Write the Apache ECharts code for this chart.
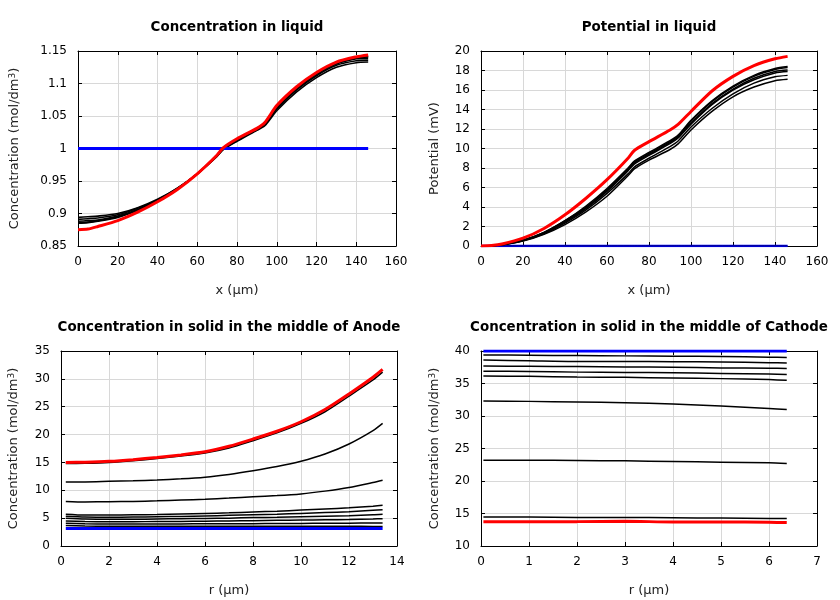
<!DOCTYPE html>
<html>
<head>
<meta charset="utf-8">
<script src="https://cdn.jsdelivr.net/npm/echarts@6/dist/echarts.min.js"></script>
<style>html,body{margin:0;padding:0;background:#fff}#c{width:840px;height:600px}</style>
</head>
<body>
<div id="c"></div>
<script>
// ---------- Data ----------
const titles = ['Concentration in liquid', 'Potential in liquid',
  'Concentration in solid in the middle of Anode', 'Concentration in solid in the middle of Cathode'];

// Liquid (x in µm)
const xLiq = [0, 5, 10, 20, 30, 40, 50, 60, 70, 73, 80, 90, 94, 100, 110, 120, 130, 140, 146];
const concLiqBlue = [1, 1, 1, 1, 1, 1, 1, 1, 1, 1, 1, 1, 1, 1, 1, 1, 1, 1, 1];
const concLiqRed = [0.875, 0.876, 0.880, 0.889, 0.902, 0.918, 0.937, 0.961, 0.990, 1.001, 1.015, 1.031, 1.040, 1.066, 1.095, 1.117, 1.133, 1.141, 1.144];
const concLiqBlack1 = [0.894, 0.895, 0.896, 0.900, 0.909, 0.922, 0.939, 0.961, 0.988, 0.998, 1.011, 1.028, 1.035, 1.058, 1.087, 1.109, 1.125, 1.132, 1.133];
const concLiqBlack2 = [0.891, 0.892, 0.893, 0.898, 0.908, 0.921, 0.939, 0.961, 0.989, 0.999, 1.012, 1.029, 1.037, 1.061, 1.090, 1.112, 1.128, 1.135, 1.136];
const concLiqBlack3 = [0.888, 0.889, 0.890, 0.896, 0.906, 0.920, 0.938, 0.961, 0.989, 0.999, 1.013, 1.030, 1.038, 1.062, 1.091, 1.114, 1.130, 1.138, 1.139];
const concLiqBlack4 = [0.886, 0.887, 0.889, 0.895, 0.905, 0.920, 0.938, 0.961, 0.989, 1.000, 1.014, 1.031, 1.039, 1.063, 1.092, 1.115, 1.131, 1.139, 1.141];
const concLiqBlack5 = [0.885, 0.886, 0.888, 0.894, 0.905, 0.919, 0.938, 0.961, 0.990, 1.000, 1.014, 1.031, 1.039, 1.064, 1.093, 1.116, 1.132, 1.140, 1.142];

const potBlue = [0, 0, 0, 0, 0, 0, 0, 0, 0, 0, 0, 0, 0, 0, 0, 0, 0, 0, 0];
const potRed = [0, 0.05, 0.2, 0.8, 1.8, 3.2, 4.9, 6.8, 9.0, 9.8, 10.7, 11.9, 12.5, 13.8, 15.9, 17.4, 18.5, 19.2, 19.45];
const potBlack0 = [0, 0, 0, 0, 0, 0, 0, 0, 0, 0, 0, 0, 0, 0, 0, 0, 0, 0, 0];
const potBlack1 = [0, 0.03, 0.15, 0.6, 1.4, 2.6, 4.1, 5.9, 8.0, 8.7, 9.6, 10.8, 11.4, 12.9, 14.9, 16.4, 17.5, 18.2, 18.4];
const potBlack2 = [0, 0.03, 0.15, 0.6, 1.4, 2.6, 4.0, 5.8, 7.9, 8.6, 9.5, 10.7, 11.3, 12.8, 14.8, 16.3, 17.4, 18.1, 18.3];
const potBlack3 = [0, 0.03, 0.14, 0.58, 1.35, 2.5, 3.9, 5.7, 7.8, 8.5, 9.4, 10.6, 11.2, 12.6, 14.6, 16.1, 17.2, 17.9, 18.05];
const potBlack4 = [0, 0.03, 0.14, 0.56, 1.3, 2.45, 3.85, 5.6, 7.7, 8.4, 9.3, 10.5, 11.1, 12.5, 14.5, 16.0, 17.05, 17.75, 17.9];
const potBlack5 = [0, 0.03, 0.13, 0.54, 1.25, 2.35, 3.7, 5.4, 7.4, 8.1, 9.0, 10.2, 10.8, 12.2, 14.1, 15.6, 16.7, 17.35, 17.5];
const potBlack6 = [0, 0.03, 0.12, 0.5, 1.2, 2.2, 3.5, 5.1, 7.2, 7.9, 8.8, 9.9, 10.5, 11.9, 13.8, 15.3, 16.3, 16.95, 17.1];

// Anode solid (r in µm)
const rAn = [0.2, 1, 2, 3, 4, 5, 6, 7, 8, 9, 10, 11, 12, 13, 13.4];
const anBlue = [3.15, 3.15, 3.15, 3.15, 3.15, 3.15, 3.15, 3.15, 3.15, 3.15, 3.15, 3.15, 3.15, 3.15, 3.15];
const anRed = [15.0, 15.05, 15.2, 15.5, 15.9, 16.35, 16.9, 17.9, 19.2, 20.6, 22.3, 24.5, 27.3, 30.3, 31.7];
const anBlack1 = [14.8, 14.85, 15.0, 15.3, 15.7, 16.15, 16.7, 17.6, 18.9, 20.3, 22.0, 24.1, 26.9, 29.8, 31.2];
const anBlack2 = [11.5, 11.5, 11.6, 11.7, 11.85, 12.05, 12.35, 12.85, 13.5, 14.25, 15.2, 16.5, 18.3, 20.7, 22.0];
const anBlack3 = [8.0, 7.9, 7.95, 8.0, 8.1, 8.25, 8.4, 8.6, 8.85, 9.05, 9.35, 9.85, 10.5, 11.4, 11.8];
const anBlack4 = [5.7, 5.55, 5.55, 5.6, 5.65, 5.75, 5.85, 5.95, 6.1, 6.25, 6.45, 6.65, 6.85, 7.15, 7.3];
const anBlack5 = [5.35, 5.2, 5.15, 5.2, 5.25, 5.3, 5.4, 5.5, 5.6, 5.7, 5.85, 6.0, 6.15, 6.4, 6.5];
const anBlack6 = [5.0, 4.85, 4.8, 4.8, 4.85, 4.9, 4.95, 5.0, 5.1, 5.15, 5.25, 5.35, 5.45, 5.6, 5.7];
const anBlack7 = [4.5, 4.4, 4.35, 4.35, 4.4, 4.4, 4.45, 4.5, 4.55, 4.6, 4.65, 4.7, 4.75, 4.85, 4.9];
const anBlack8 = [4.1, 4.0, 3.95, 3.95, 3.95, 3.95, 4.0, 4.0, 4.0, 4.05, 4.05, 4.1, 4.1, 4.15, 4.15];
const anBlack9 = [3.7, 3.6, 3.55, 3.55, 3.55, 3.55, 3.55, 3.55, 3.55, 3.55, 3.55, 3.55, 3.55, 3.5, 3.5];

// Cathode solid (r in µm)
const rCa = [0.05, 1, 2, 3, 4, 5, 6, 6.37];
const caBlue = [40, 40, 40, 40, 40, 40, 40, 40];
const caRed = [13.75, 13.75, 13.75, 13.8, 13.7, 13.7, 13.65, 13.6];
const caBlack1 = [39.4, 39.35, 39.3, 39.25, 39.2, 39.15, 39.05, 39.0];
const caBlack2 = [38.6, 38.5, 38.4, 38.4, 38.35, 38.3, 38.2, 38.15];
const caBlack3 = [37.7, 37.65, 37.6, 37.55, 37.5, 37.4, 37.35, 37.3];
const caBlack4 = [36.9, 36.85, 36.75, 36.7, 36.65, 36.55, 36.45, 36.4];
const caBlack5 = [36.15, 36.1, 36.0, 35.95, 35.85, 35.75, 35.6, 35.5];
const caBlack6 = [32.3, 32.25, 32.15, 32.05, 31.85, 31.55, 31.15, 31.0];
const caBlack7 = [23.2, 23.2, 23.15, 23.1, 23.0, 22.9, 22.8, 22.7];
const caBlack8 = [14.45, 14.45, 14.4, 14.4, 14.35, 14.3, 14.25, 14.25];

// ---------- Chart ----------
const FONT = 'DejaVu Sans';
const grids = [
  {left: 78, top: 51, width: 318, height: 195},
  {left: 481, top: 51, width: 336, height: 195},
  {left: 61, top: 351, width: 336, height: 195},
  {left: 481, top: 351, width: 336, height: 195}
];
const xSpec = [
  {min: 0, max: 160, interval: 20, name: 'x (µm)'},
  {min: 0, max: 160, interval: 20, name: 'x (µm)'},
  {min: 0, max: 14, interval: 2, name: 'r (µm)'},
  {min: 0, max: 7, interval: 1, name: 'r (µm)'}
];
const concName = 'Concentration (mol/dm{sup|3})';
const ySpec = [
  {min: 0.85, max: 1.15, interval: 0.05, name: concName, gap: 57},
  {min: 0, max: 20, interval: 2, name: 'Potential (mV)', gap: 40},
  {min: 0, max: 35, interval: 5, name: concName, gap: 41},
  {min: 10, max: 40, interval: 5, name: concName, gap: 40}
];
const fmt = v => String(parseFloat(v.toFixed(4)));
const xAxes = [], yAxes = [];
grids.forEach((g, i) => {
  const xs = xSpec[i], ys = ySpec[i];
  const common = {type: 'value', gridIndex: i, axisLine: {show: true, onZero: false, lineStyle: {color: '#000', width: 1}},
    axisTick: {show: true, inside: true, length: 4, lineStyle: {color: '#000'}}};
  xAxes.push(Object.assign({}, common, {position: 'bottom', min: xs.min, max: xs.max, interval: xs.interval,
    name: xs.name, nameLocation: 'middle', nameGap: 38,
    nameTextStyle: {fontFamily: FONT, fontSize: 13, color: '#222'},
    axisLabel: {fontFamily: FONT, fontSize: 12, color: '#000', margin: 10, formatter: fmt},
    splitLine: {show: true, lineStyle: {color: '#d8d8d8', width: 1}}}));
  xAxes.push(Object.assign({}, common, {position: 'top', min: xs.min, max: xs.max, interval: xs.interval,
    axisLabel: {show: false}, splitLine: {show: false}}));
  yAxes.push(Object.assign({}, common, {position: 'left', min: ys.min, max: ys.max, interval: ys.interval,
    name: ys.name, nameLocation: 'middle', nameGap: ys.gap, nameRotate: 90,
    nameTextStyle: {fontFamily: FONT, fontSize: 13, color: '#222',
      rich: {sup: {fontFamily: FONT, fontSize: 9, verticalAlign: 'top', color: '#222'}}},
    axisLabel: {fontFamily: FONT, fontSize: 12, color: '#000', margin: 11, formatter: fmt},
    splitLine: {show: true, lineStyle: {color: '#d8d8d8', width: 1}}}));
  yAxes.push(Object.assign({}, common, {position: 'right', min: ys.min, max: ys.max, interval: ys.interval,
    axisLabel: {show: false}, splitLine: {show: false}}));
});

const series = [];
function addLine(gi, xs, ys, color, width) {
  series.push({type: 'line', xAxisIndex: gi * 2, yAxisIndex: gi * 2,
    data: xs.map((x, k) => [x, ys[k]]), showSymbol: false, symbol: 'none',
    smooth: 0.25,
    lineStyle: {color: color, width: width}, emphasis: {disabled: true}, silent: true});
}
// grid 0
[concLiqBlack1, concLiqBlack2, concLiqBlack3, concLiqBlack4, concLiqBlack5].forEach(a => addLine(0, xLiq, a, '#000', 1.6));
addLine(0, xLiq, concLiqBlue, '#0000ff', 3);
addLine(0, xLiq, concLiqRed, '#ff0000', 3);
// grid 1
addLine(1, xLiq, potBlue, '#0000ff', 2.5);
addLine(1, xLiq, potBlack0, '#000040', 1);
[potBlack1, potBlack2, potBlack3, potBlack4, potBlack5, potBlack6].forEach(a => addLine(1, xLiq, a, '#000', 1.5));
addLine(1, xLiq, potRed, '#ff0000', 3);
// grid 2
[anBlack1, anBlack2, anBlack3, anBlack4, anBlack5, anBlack6, anBlack7, anBlack8, anBlack9].forEach(a => addLine(2, rAn, a, '#000', 1.5));
addLine(2, rAn, anBlue, '#0000ff', 3);
addLine(2, rAn, anRed, '#ff0000', 3);
// grid 3
[caBlack1, caBlack2, caBlack3, caBlack4, caBlack5, caBlack6, caBlack7, caBlack8].forEach(a => addLine(3, rCa, a, '#000', 1.5));
addLine(3, rCa, caBlue, '#0000ff', 3);
addLine(3, rCa, caRed, '#ff0000', 3);

const titleOpts = grids.map((g, i) => ({
  text: titles[i], left: g.left + g.width / 2, top: g.top - 30, textAlign: 'center', padding: 0,
  textStyle: {fontFamily: FONT, fontSize: 13.4, fontWeight: 'bold', color: '#000'}
}));

const chart = echarts.init(document.getElementById('c'), null, {renderer: 'canvas'});
chart.setOption({
  animation: false,
  backgroundColor: '#fff',
  title: titleOpts,
  grid: grids,
  xAxis: xAxes,
  yAxis: yAxes,
  series: series
});
</script>
</body>
</html>
